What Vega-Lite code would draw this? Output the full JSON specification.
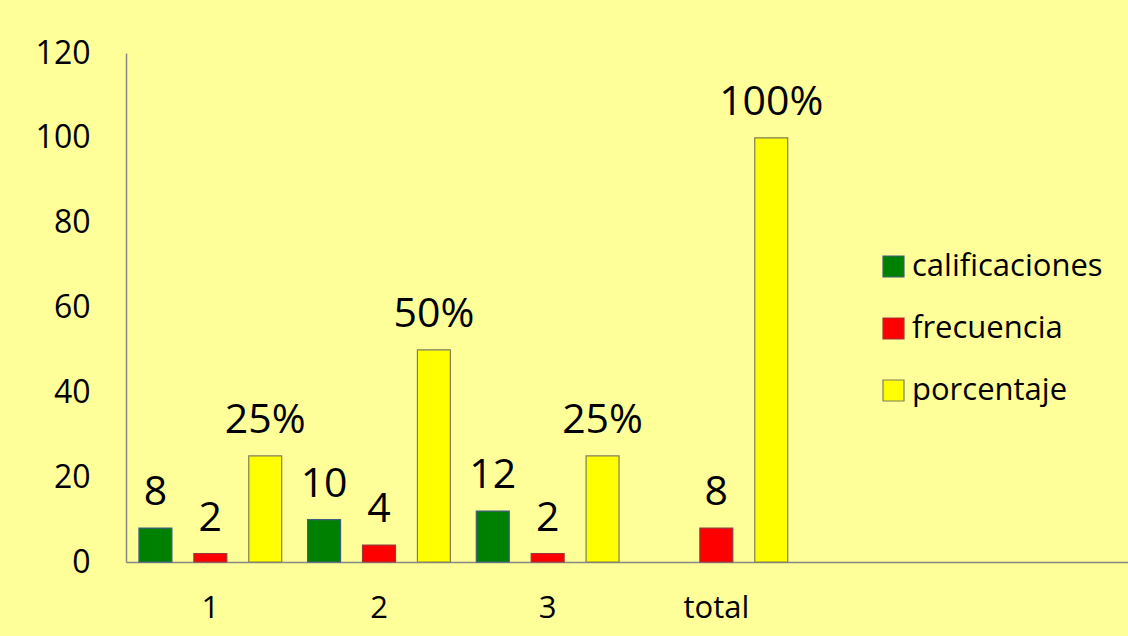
{
  "$schema": "https://vega.github.io/schema/vega-lite/v6.json",
  "width": 1002,
  "height": 509,
  "autosize": {"type": "none"},
  "padding": {"left": 126, "top": 53, "right": 0, "bottom": 74},
  "background": "#FFFF99",
  "config": {
    "view": {"stroke": null},
    "font": "Open Sans"
  },
  "data": {
    "values": [
      {"cat": "1", "serie": "calificaciones", "value": 8, "label": "8"},
      {"cat": "1", "serie": "frecuencia", "value": 2, "label": "2"},
      {"cat": "1", "serie": "porcentaje", "value": 25, "label": "25%"},
      {"cat": "2", "serie": "calificaciones", "value": 10, "label": "10"},
      {"cat": "2", "serie": "frecuencia", "value": 4, "label": "4"},
      {"cat": "2", "serie": "porcentaje", "value": 50, "label": "50%"},
      {"cat": "3", "serie": "calificaciones", "value": 12, "label": "12"},
      {"cat": "3", "serie": "frecuencia", "value": 2, "label": "2"},
      {"cat": "3", "serie": "porcentaje", "value": 25, "label": "25%"},
      {"cat": "total", "serie": "frecuencia", "value": 8, "label": "8"},
      {"cat": "total", "serie": "porcentaje", "value": 100, "label": "100%"}
    ]
  },
  "encoding": {
    "x": {
      "field": "cat",
      "type": "nominal",
      "scale": {"domain": ["1", "2", "3", "total", "e5", "e6"], "range": [0, 1012], "paddingInner": 0, "paddingOuter": 0},
      "axis": {
        "title": null,
        "labelAngle": 0,
        "labelExpr": "indexof(['1','2','3','total'], datum.value) >= 0 ? datum.value : ''",
        "labelFontSize": 31,
        "labelColor": "#000000",
        "labelPadding": 31,
        "ticks": false,
        "domainColor": "#888888",
        "domainWidth": 1.5,
        "grid": false
      }
    },
    "xOffset": {
      "field": "serie",
      "type": "nominal",
      "scale": {"domain": ["calificaciones", "frecuencia", "porcentaje"], "paddingInner": 0.4, "paddingOuter": 0.236}
    },
    "y": {
      "field": "value",
      "type": "quantitative",
      "scale": {"domain": [0, 120]},
      "axis": {
        "title": null,
        "values": [0, 20, 40, 60, 80, 100, 120],
        "labelFontSize": 32,
        "labelColor": "#000000",
        "labelPadding": 36,
        "ticks": false,
        "grid": false,
        "domainColor": "#888888",
        "domainWidth": 1.5
      }
    }
  },
  "layer": [
    {
      "mark": {"type": "bar", "strokeWidth": 1.2},
      "encoding": {
        "color": {
          "field": "serie",
          "type": "nominal",
          "scale": {"domain": ["calificaciones", "frecuencia", "porcentaje"], "range": ["#008000", "#FF0000", "#FFFF00"]},
          "legend": {
            "title": null,
            "orient": "none",
            "legendX": 752,
            "legendY": 198,
            "symbolType": "square",
            "symbolSize": 441,
            "symbolStrokeWidth": 1.2,
            "symbolStrokeColor": "#666666",
            "labelFontSize": 31,
            "labelColor": "#000000",
            "labelOffset": 3,
            "rowPadding": 30,
            "labelLimit": 400
          }
        },
        "stroke": {
          "field": "serie",
          "type": "nominal",
          "scale": {"domain": ["calificaciones", "frecuencia", "porcentaje"], "range": ["#3F5F7F", "#9A3A3A", "#7F7F5F"]},
          "legend": null
        }
      }
    },
    {
      "mark": {"type": "text", "baseline": "alphabetic", "dy": -23, "fontSize": 41, "color": "#000000"},
      "encoding": {
        "text": {"field": "label"}
      }
    }
  ]
}
